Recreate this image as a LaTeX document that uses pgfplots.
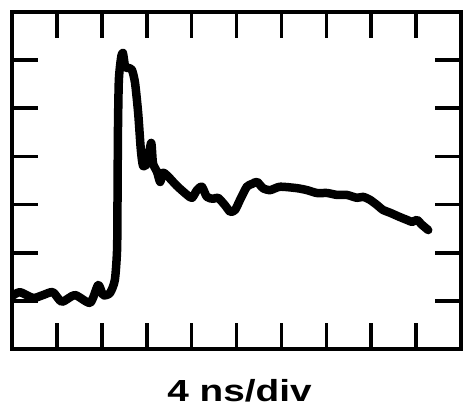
\documentclass[border=0pt]{standalone}
\usepackage{fontspec}
\setmainfont{Liberation Sans}
\usepackage{graphicx}
\usepackage{pgfplots}
\pgfplotsset{compat=1.18}

% trace in screen divisions (x: 4 ns/div)
\pgfplotstableread{
x     y
0.00  1.10
0.18  1.18
0.47  1.06
0.69  1.12
0.91  1.18
1.11  0.98
1.40  1.12
1.74  0.96
1.92  1.33
2.03  1.12
2.18  1.16
2.29  1.43
2.34  2.06
2.35  3.10
2.36  4.55
2.38  5.59
2.43  6.05
2.47  6.15
2.52  5.86
2.58  5.84
2.67  5.80
2.74  5.53
2.81  4.90
2.87  4.13
2.92  3.80
3.01  3.86
3.10  4.28
3.14  3.86
3.23  3.68
3.30  3.47
3.36  3.66
3.47  3.59
3.67  3.39
3.90  3.20
4.01  3.14
4.12  3.30
4.23  3.37
4.34  3.16
4.48  3.12
4.59  3.14
4.74  2.99
4.86  2.85
4.97  2.89
5.08  3.10
5.23  3.37
5.35  3.43
5.46  3.47
5.59  3.34
5.75  3.30
5.97  3.37
6.35  3.34
6.57  3.30
6.79  3.24
7.02  3.24
7.24  3.20
7.46  3.20
7.68  3.14
7.82  3.16
7.97  3.10
8.13  2.99
8.26  2.89
8.42  2.83
8.64  2.74
8.80  2.68
8.91  2.64
9.02  2.68
9.13  2.58
9.27  2.47
}\trace

\begin{document}
\begin{tikzpicture}
\begin{axis}[
    name=ax,
    width=449pt,
    height=337pt,
    scale only axis,
    xmin=0, xmax=10,
    ymin=0, ymax=7,
    xtick={1,...,9},
    ytick={1,...,6},
    xticklabels={},
    yticklabels={},
    tick align=inside,
    major tick length=26pt,
    tick style={black, line width=3.6pt},
    axis line style={black, line width=4.5pt},
]
\addplot[black, line width=8.5pt, line join=round, line cap=round, mark=none,
    smooth, tension=0.4]
    table[x=x, y=y] {\trace};
\end{axis}
\node[anchor=base, inner sep=0pt] at ([xshift=3pt,yshift=-53pt]ax.south)
    {\scalebox{1.27}[1]{\fontsize{30.5pt}{32pt}\selectfont\bfseries 4 ns/div}};
\path ([shift={(-12pt,-66pt)}]ax.south west) rectangle ([shift={(3pt,12pt)}]ax.north east);
\end{tikzpicture}
\end{document}
